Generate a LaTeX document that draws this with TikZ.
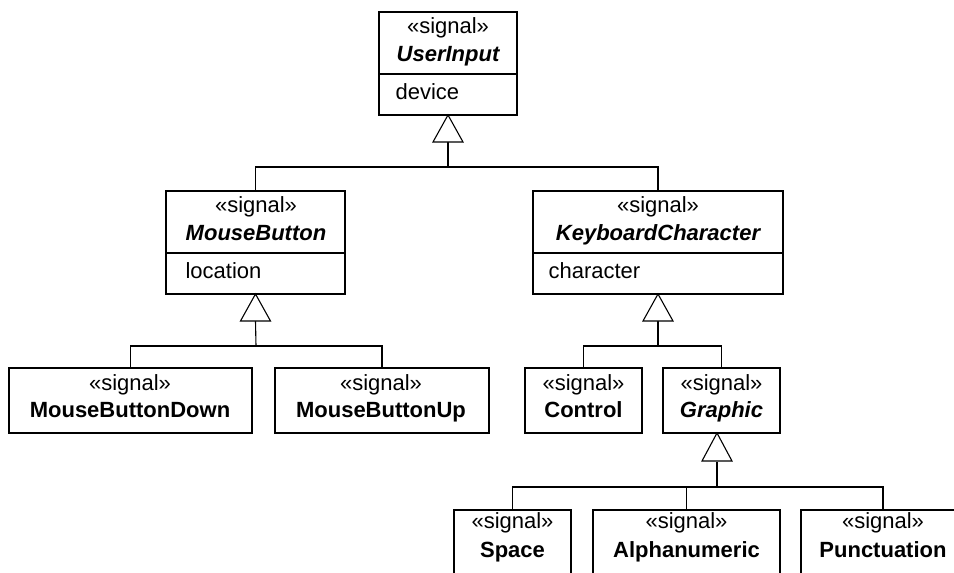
\documentclass[tikz,border=0pt]{standalone}
\usepackage{fontspec}
\setmainfont{Liberation Sans}
\begin{document}
\begin{tikzpicture}[x=1pt,y=-1pt,line width=1.1pt,
  umlbox/.style={draw,line width=1.4pt,anchor=north west,inner sep=0pt,outer sep=0pt},
  txt/.style={anchor=base,inner sep=0pt,font=\fontsize{22}{26}\selectfont},
  attr/.style={anchor=base west,inner sep=0pt,font=\fontsize{22}{26}\selectfont},
  abstr/.style={txt,font=\fontsize{22}{26}\selectfont\bfseries\itshape},
  concr/.style={txt,font=\fontsize{22}{26}\selectfont\bfseries},
  gentri/.style={draw,fill=white,line width=1.1pt,line join=miter}]
\clip (0,0) rectangle (954,573);
\fill[white] (0,0) rectangle (954,573);
% boxes
\node[umlbox,minimum width=138pt,minimum height=103pt] (UI) at (379,12) {};
\node[umlbox,minimum width=179pt,minimum height=103pt] (MB) at (166,191) {};
\node[umlbox,minimum width=250pt,minimum height=103pt] (KC) at (533,191) {};
\node[umlbox,minimum width=243pt,minimum height=65pt] (MBD) at (9,368) {};
\node[umlbox,minimum width=214pt,minimum height=65pt] (MBU) at (275,368) {};
\node[umlbox,minimum width=117pt,minimum height=65pt] (CT) at (525,368) {};
\node[umlbox,minimum width=117pt,minimum height=65pt] (GR) at (663,368) {};
\node[umlbox,minimum width=117pt,minimum height=80pt] (SP) at (454,510) {};
\node[umlbox,minimum width=187pt,minimum height=80pt] (AN) at (593,510) {};
\node[umlbox,minimum width=164pt,minimum height=80pt] (PU) at (801,510) {};
% compartment dividers
\draw[line width=1.1pt] (UI.west |- 0,74) -- (UI.east |- 0,74);
\draw[line width=1.1pt] (MB.west |- 0,253) -- (MB.east |- 0,253);
\draw[line width=1.1pt] (KC.west |- 0,253) -- (KC.east |- 0,253);
% texts
\node[txt] (uiS) at (448,33) {«signal»};
\node[abstr] (uiN) at (448,61) {UserInput};
\node[attr] (uiA) at (395,99) {device};
\node[txt] (mbS) at (256,212) {«signal»};
\node[abstr] (mbN) at (256,240) {MouseButton};
\node[attr] (mbA) at (185,278) {location};
\node[txt] (kcS) at (658,212) {«signal»};
\node[abstr] (kcN) at (658,240) {KeyboardCharacter};
\node[attr] (kcA) at (548,278) {character};
\node[txt] (mbdS) at (130,390) {«signal»};
\node[concr] (mbdN) at (130,417) {MouseButtonDown};
\node[txt] (mbuS) at (381,390) {«signal»};
\node[concr] (mbuN) at (381,417) {MouseButtonUp};
\node[txt] (ctS) at (583.5,390) {«signal»};
\node[concr] (ctN) at (583.5,417) {Control};
\node[txt] (grS) at (721.5,390) {«signal»};
\node[abstr] (grN) at (721.5,417) {Graphic};
\node[txt] (spS) at (512.5,528) {«signal»};
\node[concr] (spN) at (512.5,557) {Space};
\node[txt] (anS) at (686.5,528) {«signal»};
\node[concr] (anN) at (686.5,557) {Alphanumeric};
\node[txt] (puS) at (883,528) {«signal»};
\node[concr] (puN) at (883,557) {Punctuation};
% junction coordinates
\coordinate (j1) at (448,167);
\coordinate (j2) at (256,346);
\coordinate (j3) at (658,346);
\coordinate (j4) at (717,487);
% generalization 1
\draw (MB.north) |- (j1) -| (KC.north);
\draw (j1) -- (UI.south |- 0,141);
\draw[gentri] (UI.south) -- ++(-15,27) -- ++(30,0) -- cycle;
% generalization 2
\draw (MBD.north) |- (j2) -| (MBU.north);
\draw (j2) -- (MB.south |- 0,321);
\draw[gentri] (MB.south) -- ++(-15,27) -- ++(30,0) -- cycle;
% generalization 3
\draw (CT.north) |- (j3) -| (GR.north);
\draw (j3) -- (KC.south |- 0,321);
\draw[gentri] (KC.south) -- ++(-15,27) -- ++(30,0) -- cycle;
% generalization 4
\coordinate (g4) at (j4 |- GR.south);
\draw (SP.north) |- (j4) -| (PU.north);
\draw (AN.north) -- (AN.north |- j4);
\draw (j4) -- ++(0,-25);
\draw[gentri] (g4) -- ++(-15,28) -- ++(30,0) -- cycle;
\end{tikzpicture}
\end{document}
